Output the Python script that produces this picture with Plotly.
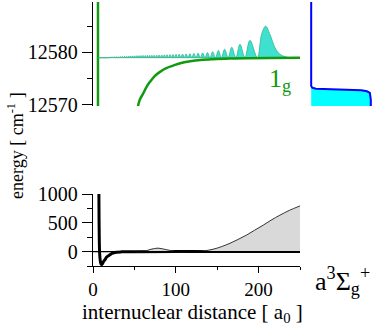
import plotly.graph_objects as go

W, H = 374, 326

# ---------------- data ----------------
# top panel: 1_g potential (r in a0, energy in cm^-1)
g_r = [54.0, 56.5, 60.7, 64.5, 68.8, 74.5, 80.9, 88.5, 97.0, 106.5, 117.1, 130.0, 145.3, 165.0, 185.6, 215.0, 250.0]
g_E = [12569.5, 12571.0, 12572.2, 12573.4, 12574.4, 12575.5, 12576.3, 12577.0, 12577.5, 12578.0, 12578.3, 12578.55, 12578.7, 12578.82, 12578.9, 12578.96, 12579.0]
wall_r = [6.0, 6.0]
wall_E = [12569.0, 12591.0]

level_E = 12579.0
wf_r = [6, 19, 20.5, 21.7, 23, 24.2, 25.5, 26.7, 28, 29.2, 30.5, 31.7, 33, 34.2, 35.5, 36.7,
        38, 39.2, 40.5, 41.7, 43, 44.2, 45.5, 46.7, 48, 49.2, 50.5, 51.7, 53, 54.2, 55.5, 56.7,
        58, 59.3, 60.6, 61.9, 63.2, 64.5, 65.8, 67.1, 68.4, 69.7, 71.1, 72.5, 73.9, 75.4, 76.9,
        78.4, 79.9, 81.4, 83, 84.6, 86.2, 87.8, 89.5, 91.2, 93, 94.7, 96.5, 98.3, 100.2, 102.1,
        104.1, 106.1, 108.2, 110.3, 112.5, 114.7, 117, 119.4, 121.8, 124.3, 126.9, 129.6, 132.4,
        135.3, 138.2, 141.3, 144.5, 147.9, 151.4, 155.1, 158.9, 163.2, 167.6, 172.5, 177.5, 183.5,
        189.5, 198.5, 203.7, 208.5, 213.8, 219.8, 225.8, 231.9, 238, 250]
wf_h = [0, 0, 0.12, 0, 0.14, 0, 0.16, 0, 0.18, 0, 0.20, 0, 0.22, 0, 0.24, 0,
        0.26, 0, 0.28, 0, 0.30, 0, 0.32, 0, 0.34, 0, 0.35, 0, 0.37, 0, 0.38, 0,
        0.40, 0, 0.41, 0, 0.42, 0, 0.43, 0, 0.44, 0, 0.45, 0, 0.46, 0, 0.48,
        0, 0.50, 0, 0.52, 0, 0.54, 0, 0.56, 0, 0.58, 0, 0.60, 0, 0.62, 0,
        0.65, 0, 0.68, 0, 0.71, 0, 0.75, 0, 0.80, 0, 0.85, 0, 0.90,
        0, 0.97, 0, 1.13, 0, 1.38, 0, 1.60, 0, 2.00, 0, 2.55, 0,
        3.30, 0, 4.5, 6.0, 4.4, 1.9, 0.65, 0.2, 0, 0]

# right panel: population profile (horizontal fraction vs energy)
side_x = [1.0, 1.0, 0.984, 0.935, 0.84, 0.645, 0.32, 0.08, 0.016, 0.0, 0.0]
side_E = [12569.5, 12571.0, 12572.3, 12572.6, 12572.8, 12572.9, 12573.0, 12573.1, 12573.3, 12573.6, 12590.0]

# bottom panel: a3Sigma_g+ potential and wavefunction
pot_r = [7.1, 7.3, 7.6, 8.1, 8.8, 9.6, 10.5, 11.5, 12.6, 14.5, 16.5, 20.5, 23, 28.5, 35, 50, 100, 250]
pot_E = [1050, 600, 200, -50, -160, -210, -225, -210, -175, -140, -95, -55, -30, -10, -4, -1, 0, 0]
bw_r = [12, 20, 30, 45, 60, 70, 78.5, 88, 101, 115, 127, 135, 145, 155, 165.5, 175, 185.6, 195, 205.7, 215, 225.8, 237, 250]
bw_E = [0, 2, 3, 2, 0, 40, 60, 35, 0, 0, 5, 15, 41, 85, 145, 210, 288, 370, 460, 545, 633, 715, 793]
zero_r = [0, 250]
zero_E = [0, 0]

x_ticks = [0, 100, 200]
x_minor = [50, 150, 250]
yb_ticks = [0, 500, 1000]
yb_minor = [-250, 250, 750]
yt_ticks = [12570, 12580]
yt_minor = [12575, 12585]

GREEN = "#109a10"
FONT = "Liberation Serif"

# ---------------- figure ----------------
fig = go.Figure()

def px(x):
    return x / W

def py(y):
    return 1 - y / H

# top panel
fig.add_trace(go.Scatter(x=wall_r, y=wall_E, mode="lines", line=dict(color=GREEN, width=2.5),
                         xaxis="x2", yaxis="y2", showlegend=False, hoverinfo="skip"))
fig.add_trace(go.Scatter(x=[wf_r[0], wf_r[-1]], y=[level_E, level_E], mode="lines",
                         line=dict(color="#3aa87a", width=0.8), xaxis="x2", yaxis="y2",
                         showlegend=False, hoverinfo="skip"))
fig.add_trace(go.Scatter(x=wf_r, y=[level_E + h for h in wf_h], mode="lines",
                         line=dict(color="#2fb890", width=0.8, shape="spline", smoothing=1.0),
                         fill="tonexty", fillcolor="#40e0d0", xaxis="x2", yaxis="y2",
                         showlegend=False, hoverinfo="skip"))
fig.add_trace(go.Scatter(x=g_r, y=g_E, mode="lines", line=dict(color=GREEN, width=2.5, shape="spline"),
                         xaxis="x2", yaxis="y2", showlegend=False, hoverinfo="skip"))

# right panel
fig.add_trace(go.Scatter(x=side_x, y=side_E, mode="lines", line=dict(color="#0000ff", width=2),
                         fill="tozerox", fillcolor="#00ffff", xaxis="x3", yaxis="y3",
                         showlegend=False, hoverinfo="skip"))

# bottom panel
fig.add_trace(go.Scatter(x=pot_r, y=pot_E, mode="lines", line=dict(color="black", width=3, shape="spline"),
                         showlegend=False, hoverinfo="skip"))
fig.add_trace(go.Scatter(x=bw_r, y=bw_E, mode="lines", line=dict(color="#333333", width=1, shape="spline"),
                         fill="tozeroy", fillcolor="#d9d9d9", showlegend=False, hoverinfo="skip"))
fig.add_trace(go.Scatter(x=zero_r, y=zero_E, mode="lines", line=dict(color="black", width=1.3),
                         showlegend=False, hoverinfo="skip"))

xdom = [px(93), px(300)]
axis_common = dict(showgrid=False, zeroline=False, linecolor="black", linewidth=1.3,
                   ticks="outside", tickwidth=1.3, tickcolor="black", automargin=False)

fig.update_layout(
    width=W, height=H,
    margin=dict(l=0, r=0, t=0, b=0),
    paper_bgcolor="white", plot_bgcolor="white",
    xaxis=dict(domain=xdom, range=[0, 250], anchor="y", showline=True, ticklen=6,
               tickvals=x_ticks, ticktext=[str(v) for v in x_ticks],
               tickfont=dict(family=FONT, size=19, color="black"),
               minor=dict(tickvals=x_minor, ticks="outside", ticklen=3, tickcolor="black", tickwidth=1.3),
               **axis_common),
    yaxis=dict(domain=[py(266), py(194)], range=[-250, 1000], anchor="x", showline=True, ticklen=10,
               tickvals=yb_ticks, ticktext=[str(v) for v in yb_ticks],
               tickfont=dict(family=FONT, size=20, color="black"),
               minor=dict(tickvals=yb_minor, ticks="outside", ticklen=5, tickcolor="black", tickwidth=1.3),
               **axis_common),
    xaxis2=dict(domain=xdom, range=[0, 250], anchor="y2", visible=False),
    yaxis2=dict(domain=[py(106), py(2)], range=[12569.8, 12589.6], anchor="x2", showline=True, ticklen=10,
                tickvals=yt_ticks, ticktext=[str(v) for v in yt_ticks],
                tickfont=dict(family=FONT, size=20, color="black"),
                minor=dict(tickvals=yt_minor, ticks="outside", ticklen=5, tickcolor="black", tickwidth=1.3),
                **axis_common),
    xaxis3=dict(domain=[px(310), px(372)], range=[-0.02, 1.02], anchor="y3", visible=False),
    yaxis3=dict(domain=[py(106), py(2)], range=[12569.8, 12589.6], anchor="x3", visible=False),
)

ann = [
    dict(text="energy [ cm<sup>-1</sup> ]", x=px(15), y=py(146), textangle=-90,
         font=dict(family=FONT, size=18, color="black")),
    dict(text="internuclear distance [ a<sub>0</sub> ]", x=px(192), y=py(313),
         font=dict(family=FONT, size=21, color="black")),
    dict(text="1<sub>g</sub>", x=px(267), y=py(80), xanchor="left",
         font=dict(family=FONT, size=26, color=GREEN)),
    dict(text="a<sup>3</sup>Σ<sub>g</sub><sup>+</sup>", x=px(313), y=py(281), xanchor="left",
         font=dict(family=FONT, size=26, color="black")),
]
for a in ann:
    a.setdefault("xanchor", "center")
    a.update(xref="paper", yref="paper", showarrow=False, yanchor="middle")
fig.update_layout(annotations=ann)

fig.write_html("out.html", config={"displayModeBar": False},
               post_script="document.body.style.margin='0';document.body.style.overflow='hidden';")
